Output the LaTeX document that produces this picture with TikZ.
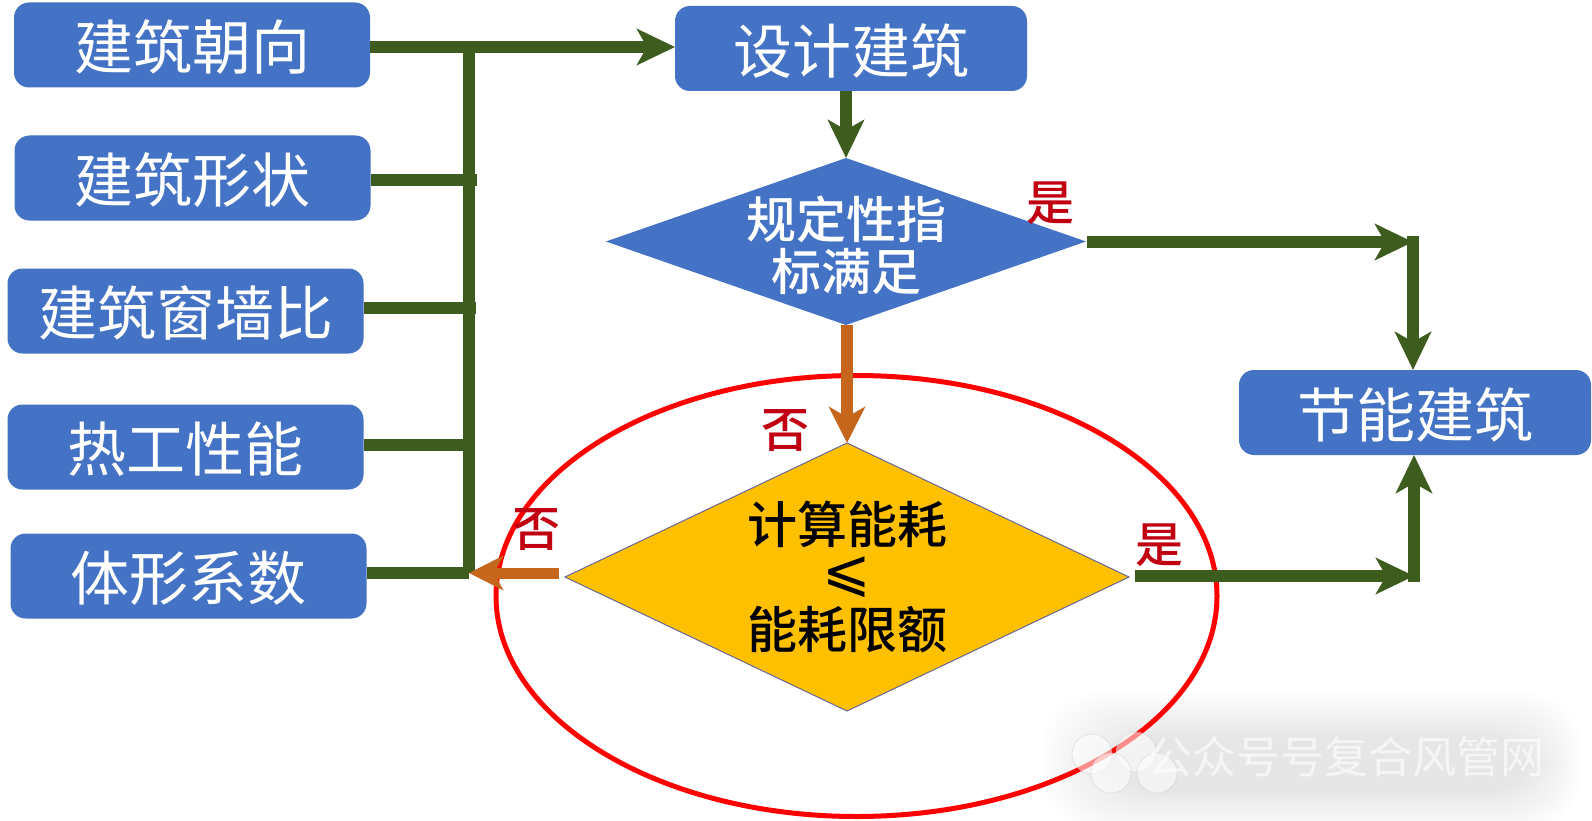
\documentclass[tikz,border=0pt]{standalone}
\usepackage{fontspec}
\newfontfamily\cjk{Noto Sans CJK SC}
\newfontfamily\cjkm{Noto Sans CJK SC Medium}
\newfontfamily\dv{DejaVu Sans}
\usetikzlibrary{arrows.meta,shapes.geometric}
\definecolor{boxblue}{HTML}{4472C4}
\definecolor{lineg}{HTML}{3D5C1E}
\definecolor{lineo}{HTML}{C5661C}
\definecolor{labred}{HTML}{C00010}
\definecolor{gold}{HTML}{FFC000}
\tikzset{
  box/.style={draw=none,fill=boxblue,rounded corners=15pt,minimum width=#1,minimum height=85pt,inner sep=0pt,outer sep=0pt,text=white,text height=55pt,text depth=5.6pt,font=\cjk\fontsize{59}{62}\selectfont},
  box/.default=356pt,
  dia/.style={shape=diamond,inner sep=0pt,outer sep=0pt},
  ltext/.style={inner sep=0pt,font=\cjkm\fontsize{50}{54}\selectfont},
  yn/.style={inner sep=0pt,text=labred,font=\cjkm\fontsize{48}{52}\selectfont},
  gl/.style={draw=lineg,line width=12.5pt},
  ga/.style={draw=lineg,line width=12.5pt,-{Stealth[length=38pt,width=36pt,inset=10pt]}},
  oa/.style={draw=lineo,line width=12pt,-{Stealth[length=36pt,width=36pt,inset=10pt]}}
}
\begin{document}
\begin{tikzpicture}[x=1pt,y=-1pt]
\useasboundingbox (0,0) rectangle (1592,821);
\fill[white] (0,0) rectangle (1592,821);
% watermark halo
\foreach \i in {0,...,24}{
  \fill[black,opacity=0.0028,rounded corners=55pt] (1040+3*\i,692+1.9*\i) rectangle (1582-1.9*\i,830-1.6*\i);
}
% ellipse
\node[draw=red,line width=5pt,shape=ellipse,minimum width=721pt,minimum height=441pt,inner sep=0pt,outer sep=0pt] (ring) at (856.5,596) {};
% boxes
\node[box] (b1) at (192,45) {建筑朝向};
\node[box] (b2) at (192.5,178) {建筑形状};
\node[box] (b3) at (185.5,311) {建筑窗墙比};
\node[box] (b4) at (185.5,447) {热工性能};
\node[box] (b5) at (188.5,576) {体形系数};
\node[box=352pt] (d0) at (851,48.5) {设计建筑};
\node[box=352pt] (e) at (1415,412.5) {节能建筑};
% diamonds
\node[dia,fill=boxblue,minimum width=480pt,minimum height=167pt] (q1) at (846,241.5) {};
\node[dia,fill=gold,draw=gray!80!blue,line width=1pt,minimum width=564pt,minimum height=268pt] (q2) at (847,577) {};
\node[ltext,text=white] (q1a) at (846,219) {规定性指};
\node[ltext,text=white] (q1b) at (846,271) {标满足};
\node[ltext,text=black] (q2a) at (847,524) {计算能耗};
\node[inner sep=0pt,font=\dv\fontsize{58}{60}\selectfont] (q2b) at (847,577) {⩽};
\node[ltext,text=black] (q2c) at (847,630) {能耗限额};
% connectors
\coordinate (j1) at (469,47);
\coordinate (j5) at (469,573);
\coordinate (c1) at (1413,242);
\coordinate (c2) at (1414,576);
\draw[gl] (j1) -- (j5);
\draw[gl] (b2.east |- 0,180) -- (477,180);
\draw[gl] (b3.east |- 0,308) -- (476,308);
\draw[gl] (b4.east |- 0,445) -- (470,445);
\draw[gl] (b5.east |- j5) -- (j5);
\draw[ga] (b1.east |- j1) -- (d0.west |- j1);
\draw[ga] (d0.south -| q1.north) -- (q1.north);
\draw[oa] (q1.south -| q2.north) -- (q2.north);
\draw[draw=lineo,line width=11pt,-{Stealth[length=34pt,width=34pt,inset=9pt]}] (559,573) -- (j5);
\draw[ga] (1087,242) -- (c1);
\draw[ga] ([yshift=6pt]c1) -- (c1 |- e.north);
\draw[ga] (1135,576) -- (c2);
\draw[ga] ([yshift=-6pt]c2) -- (c2 |- e.south);
% labels
\node[yn] (y1) at (1050,203) {是};
\node[yn] (n1) at (785,431) {否};
\node[yn] (n2) at (536,530) {否};
\node[yn] (y2) at (1159,545) {是};
% watermark
\foreach \p/\r in {1092/754,1136/752,1111/773,1157/773}{
  \fill[white,opacity=.55] (\p,\r) circle (20pt);
  \draw[gray!50,opacity=.35,line width=.8pt] (\p,\r) circle (20pt);
}
\node[inner sep=0pt,text=white,opacity=.6,font=\cjk\fontsize{44}{48}\selectfont] (wm) at (1346,757) {公众号号复合风管网};
\end{tikzpicture}
\end{document}
